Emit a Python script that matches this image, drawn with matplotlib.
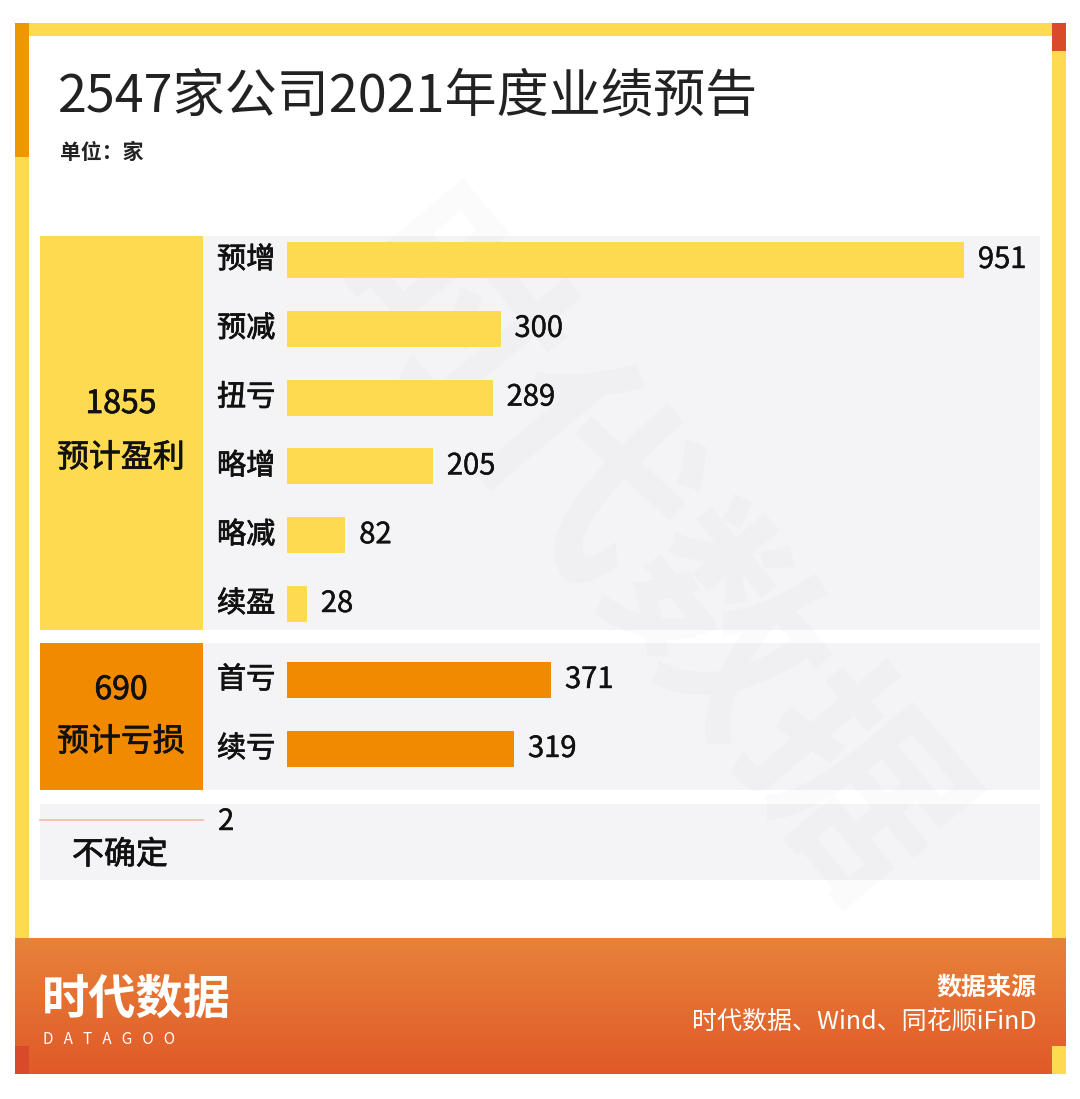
import numpy as np
import matplotlib.pyplot as plt
import matplotlib.patheffects as pe
from matplotlib.patches import Rectangle

plt.rcParams['font.family'] = ['Noto Sans CJK SC', 'DejaVu Sans']

# data
title = "2547家公司2021年度业绩预告"
unit = "单位：家"
profit_cats = ["预增", "预减", "扭亏", "略增", "略减", "续盈"]
profit_vals = [951, 300, 289, 205, 82, 28]
loss_cats = ["首亏", "续亏"]
loss_vals = [371, 319]
profit_total = 1855
loss_total = 690
uncertain = 2
source_title = "数据来源"
source_text = "时代数据、Wind、同花顺iFinD"

YELLOW = "#fdda50"
ORANGE = "#f28a00"
STRIP_ORANGE = "#ee9800"
RED = "#d84a2a"
PANEL = "#f4f4f6"
INK = "#111111"
W, H = 1080, 1099

# regular weight thickened a little, to get a "medium" look
MED = [pe.withStroke(linewidth=0.55, foreground=INK)]
NUM = [pe.withStroke(linewidth=0.3, foreground=INK)]

fig = plt.figure(figsize=(W / 100, H / 100), dpi=100)
bg = fig.add_axes([0, 0, 1, 1])
bg.set_xlim(0, W)
bg.set_ylim(H, 0)
bg.axis("off")

def rect(x0, y0, x1, y1, color, z=1):
    bg.add_patch(Rectangle((x0, y0), x1 - x0, y1 - y0, color=color, lw=0, zorder=z))

# frame
rect(15, 23, 1066, 1074, YELLOW, 0)
rect(29, 36, 1052, 938, "white", 1)
rect(15, 23, 29, 157, STRIP_ORANGE, 1)
rect(1052, 23, 1066, 51, RED, 1)

# footer gradient
grad = np.linspace(0, 1, 100).reshape(-1, 1)
c0 = np.array([0xe8, 0x82, 0x3a]) / 255
c1 = np.array([0xe0, 0x5a, 0x28]) / 255
img = c0 + (c1 - c0) * grad[..., None]
bg.imshow(img, extent=(15, 1066, 1074, 938), aspect="auto", zorder=2)
rect(15, 1046, 29, 1074, RED, 3)
rect(1052, 1046, 1066, 1074, YELLOW, 3)
bg.set_xlim(0, W)
bg.set_ylim(H, 0)

# panels
rect(40, 236, 1040, 630, PANEL, 2)
rect(40, 643, 1040, 790, PANEL, 2)
rect(40, 804, 1040, 880, PANEL, 2)
rect(40, 236, 203, 630, YELLOW, 3)
rect(40, 643, 203, 790, ORANGE, 3)
bg.plot([40, 203], [820, 820], color="#f2b9a6", lw=1.2, zorder=3)

# watermark
bg.text(640, 560, "时代数据", fontsize=150, fontweight="bold", color="#9a9a9a",
        alpha=0.045, rotation=-50, ha="center", va="center", zorder=4)

# titles
bg.text(58, 97, title, fontsize=37.5, color="#222222", va="center", ha="left", zorder=5)
bg.text(60, 152, unit, fontsize=15, fontweight="bold", color="#222222", va="center", zorder=5)

# group labels
for x, y, s in [(121, 404, str(profit_total)), (121, 458, "预计盈利"),
                (121, 690, str(loss_total)), (121, 742, "预计亏损"),
                (120, 855, "不确定")]:
    bg.text(x, y, s, fontsize=23, color=INK, ha="center", va="center",
            zorder=5, path_effects=MED)
bg.text(218, 822, str(uncertain), fontsize=21, color=INK, ha="left", va="center",
        zorder=5, path_effects=NUM)

# footer text / logo
bg.text(42, 1000, "时代数据", fontsize=34, fontweight="bold", color="white",
        ha="left", va="center", zorder=5)
bg.text(43, 1040, "D   A   T   A   G   O   O", fontsize=11, color="white",
        ha="left", va="center", zorder=5)
bg.text(1036, 988, source_title, fontsize=18, fontweight="bold", color="white",
        ha="right", va="center", zorder=5)
bg.text(1036, 1022, source_text, fontsize=18, color="white",
        ha="right", va="center", zorder=5)

# bars
px_per_unit = (964 - 287) / 951
ax = fig.add_axes([287 / W, 0, (1040 - 287) / W, 1])
ax.set_xlim(0, (1040 - 287) / px_per_unit)
ax.set_ylim(H, 0)
ax.axis("off")
ax.patch.set_alpha(0)

profit_y = 260 + 68.8 * np.arange(len(profit_vals))
loss_y = 680 + 69 * np.arange(len(loss_vals))

ax.barh(profit_y, profit_vals, height=36, color=YELLOW, zorder=3)
ax.barh(loss_y, loss_vals, height=36, color=ORANGE, zorder=3)

for cats, vals, ys in [(profit_cats, profit_vals, profit_y), (loss_cats, loss_vals, loss_y)]:
    for c, v, y in zip(cats, vals, ys):
        bg.text(217, y, c, fontsize=21, color=INK, ha="left", va="center",
                zorder=5, path_effects=MED)
        ax.annotate(str(v), (v, y), xytext=(10, 0), textcoords="offset points",
                    fontsize=21, color=INK, ha="left", va="center", zorder=5,
                    path_effects=NUM)

fig.savefig("out.png", dpi=100)
